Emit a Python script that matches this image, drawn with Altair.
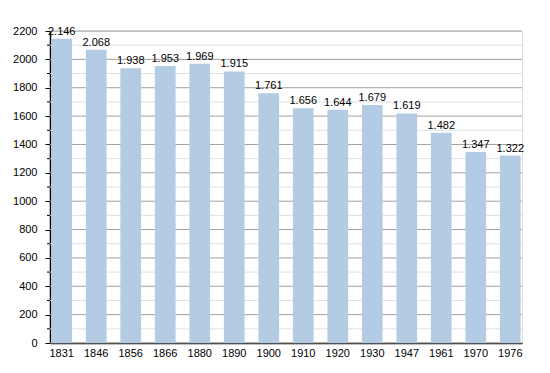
import altair as alt
import pandas as pd

years = ["1831", "1846", "1856", "1866", "1880", "1890", "1900", "1910", "1920", "1930", "1947", "1961", "1970", "1976"]
population = [2146, 2068, 1938, 1953, 1969, 1915, 1761, 1656, 1644, 1679, 1619, 1482, 1347, 1322]
labels = ["2.146", "2.068", "1.938", "1.953", "1.969", "1.915", "1.761", "1.656", "1.644", "1.679", "1.619", "1.482", "1.347", "1.322"]
major_ticks = [0, 200, 400, 600, 800, 1000, 1200, 1400, 1600, 1800, 2000, 2200]
minor_ticks = [100, 300, 500, 700, 900, 1100, 1300, 1500, 1700, 1900, 2100]

df = pd.DataFrame({"year": years, "pop": population, "label": labels})
df_major = pd.DataFrame({"pop": major_ticks})
df_minor = pd.DataFrame({"pop": minor_ticks})

FONT = "Liberation Sans"
yscale = alt.Scale(domain=[0, 2200], nice=False)
y_axis = alt.Axis(values=major_ticks, grid=False, format="d", labelOverlap=False,
                  tickSize=5, tickColor="#000", domainColor="#000", domainWidth=1.5,
                  labelFont=FONT, labelFontSize=11, labelColor="#000", labelPadding=8)

def Y():
    return alt.Y("pop:Q", title=None, scale=yscale, axis=y_axis)

x = alt.X("year:N", sort=None, title=None,
          scale=alt.Scale(paddingInner=0.4, paddingOuter=0.04),
          axis=alt.Axis(labelAngle=0, ticks=False, domainColor="#000", domainWidth=1.5,
                        labelFont=FONT, labelFontSize=11, labelColor="#000", labelPadding=4))

minor_grid = alt.Chart(df_minor).mark_rule(color="#e0e0e0", strokeWidth=1).encode(
    y=Y(), x=alt.value(0), x2=alt.value(472))
major_grid = alt.Chart(df_major).mark_rule(color="#a0a0a0", strokeWidth=1).encode(
    y=Y(), x=alt.value(0), x2=alt.value(472))
bars = alt.Chart(df).mark_bar(color="#b3cce4").encode(x=x, y=Y())
minor_tick = alt.Chart(df_minor).mark_rule(color="#000", strokeWidth=1).encode(
    y=Y(), x=alt.value(-3), x2=alt.value(0))
text = alt.Chart(df).mark_text(baseline="bottom", dy=-2, font=FONT, fontSize=11, color="#000").encode(
    x=x, y=Y(), text="label:N")

chart = alt.layer(minor_grid, major_grid, bars, minor_tick, text).properties(
    width=472, height=312,
    autosize=alt.AutoSizeParams(type="none"),
    padding={"left": 42, "top": 23, "right": 20, "bottom": 22},
).configure_view(stroke=None).configure(background="white")

chart.save("out.html", embed_options={"renderer": "svg", "actions": False})
